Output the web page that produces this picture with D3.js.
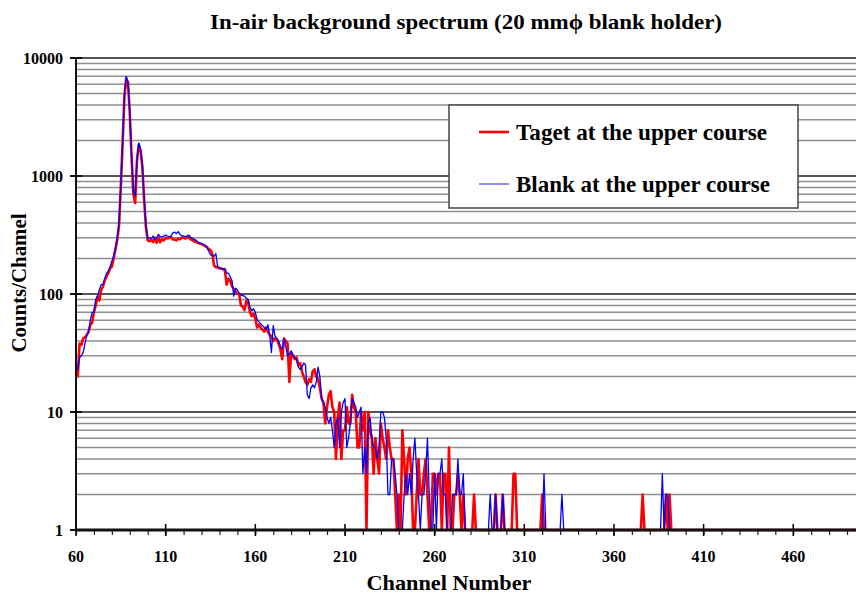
<!DOCTYPE html>
<html><head><meta charset="utf-8">
<script src="https://cdn.jsdelivr.net/npm/d3@7"></script>
<style>
body{margin:0;background:#fff}
svg{display:block}
text{font-family:"Liberation Serif","Times New Roman",serif;font-weight:bold;fill:#000}
</style>
</head><body>
<svg id="chart" width="856" height="594"></svg>
<script>
// ---- data ----
const firstChannel = 60;
const lastChannel = 495;
const targetCounts = [
  26,20,38,37,42,43,45,48,55,57,
  70,80,95,88,108,115,130,140,150,165,
  170,200,240,290,380,820,1900,4700,6700,6200,
  3400,1450,700,590,1350,1850,1650,1200,630,370,
  285,280,290,275,300,272,300,275,290,285,
  300,295,300,305,290,290,285,295,290,300,
  300,295,305,300,290,285,280,275,270,268,
  265,260,255,250,240,235,220,175,168,170,
  165,164,162,160,120,135,130,116,110,105,
  100,100,80,78,73,88,85,70,65,68,
  62,52,55,52,50,48,52,48,45,44,
  40,42,41,38,34,28,42,40,38,18,
  32,30,28,29,25,26,22,20,18,17,
  19,18,22,23,20,19,16,13,12,8,
  11,14,15,11,10,4,9,12,4,7,
  7,11,8,8,14,11,10,5,5,10,
  7,10,1,10,7,6,3,6,4,3,
  8,6,5,4,7,5,4,4,2,1,
  2,1,7,4,2,4,5,3,1,1,
  2,4,2,2,3,4,2,1,1,3,
  3,2,3,3,1,3,3,1,5,1,
  1,2,2,3,2,1,2,1,1,1,
  1,1,2,1,1,1,1,1,1,1,
  1,1,1,1,2,1,1,1,2,1,
  1,1,1,1,3,3,1,1,1,1,
  1,1,1,1,1,1,1,1,1,1,
  2,1,1,1,1,1,1,1,1,1,
  1,1,1,1,1,1,1,1,1,1,
  1,1,1,1,1,1,1,1,1,1,
  1,1,1,1,1,1,1,1,1,1,
  1,1,1,1,1,1,1,1,1,1,
  1,1,1,1,1,1,2,1,1,1,
  1,1,1,1,1,1,1,1,1,2,
  1,2,1,1,1,1,1,1,1,1,
  1,1,1,1,1,1,1,1,1,1,
  1,1,1,1,1,1,1,1,1,1,
  1,1,1,1,1,1,1,1,1,1,
  1,1,1,1,1,1,1,1,1,1,
  1,1,1,1,1,1,1,1,1,1,
  1,1,1,1,1,1,1,1,1,1,
  1,1,1,1,1,1,1,1,1,1,
  1,1,1,1,1,1,1,1,1,1,
  1,1,1,1,1,1,1,1,1,1,
  1,1,1,1,1,1
];
const blankCounts = [
  25,23,29,30,32,38,45,47,60,70,
  70,90,95,108,120,120,135,150,155,170,
  190,210,245,300,400,850,1950,4900,7000,6300,
  3500,1500,740,680,1400,1900,1700,1250,650,380,
  295,300,295,310,290,300,320,305,305,310,
  315,310,305,310,330,335,325,338,320,310,
  310,305,312,315,300,295,290,285,275,270,
  268,265,260,250,230,215,212,208,220,170,
  165,165,163,165,150,150,140,130,96,112,
  108,102,98,97,96,92,90,78,72,75,
  70,61,58,56,54,52,50,55,45,32,
  54,44,42,40,36,34,42,36,30,31,
  33,30,29,28,24,23,24,26,25,14,
  13,16,17,16,18,24,20,13,12,11,
  9,8,9,7,5,8,9,5,10,12,
  13,5,6,8,13,12,11,9,10,11,
  3,5,3,8,9,6,5,5,4,5,
  10,10,9,6,2,2,4,4,3,2,
  1,1,1,2,3,2,3,2,4,6,
  3,2,1,2,2,3,6,2,1,1,
  3,1,3,3,4,2,2,1,1,1,
  2,2,2,4,2,2,3,1,1,1,
  1,1,1,1,1,1,1,1,1,1,
  1,2,1,1,2,1,1,1,2,1,
  1,1,1,1,1,1,1,1,1,1,
  1,1,1,1,1,1,1,1,1,1,
  1,3,1,1,1,1,1,1,1,1,
  1,2,1,1,1,1,1,1,1,1,
  1,1,1,1,1,1,1,1,1,1,
  1,1,1,1,1,1,1,1,1,1,
  1,1,1,1,1,1,1,1,1,1,
  1,1,1,1,1,1,1,1,1,1,
  1,1,1,1,1,1,1,3,1,2,
  2,1,1,1,1,1,1,1,1,1,
  1,1,1,1,1,1,1,1,1,1,
  1,1,1,1,1,1,1,1,1,1,
  1,1,1,1,1,1,1,1,1,1,
  1,1,1,1,1,1,1,1,1,1,
  1,1,1,1,1,1,1,1,1,1,
  1,1,1,1,1,1,1,1,1,1,
  1,1,1,1,1,1,1,1,1,1,
  1,1,1,1,1,1,1,1,1,1,
  1,1,1,1,1,1,1,1,1,1,
  1,1,1,1,1,1
];
const xTickLabels = [60,110,160,210,260,310,360,410,460];
const yTickLabels = [1,10,100,1000,10000];
const seriesNames = ["Taget at the upper course","Blank at the upper course"];
const titleText = "In-air background spectrum (20 mm\u03D5 blank holder)";
const xTitle = "Channel Number";
const yTitle = "Counts/Chamel";

// ---- scales ----
const W = 856, H = 594;
const pLeft = 76, pRight = 856, pTop = 58, pBottom = 530;
const x = d3.scaleLinear().domain([firstChannel, lastChannel]).range([pLeft, pRight]);
const y = d3.scaleLog().domain([1, 10000]).range([pBottom, pTop]);
const svg = d3.select("#chart");

// gridlines
const minorVals = [];
for (let d = 1; d < 10000; d *= 10) for (let m = 2; m <= 9; m++) minorVals.push(d * m);
svg.append("g").selectAll("line").data(minorVals).join("line")
  .attr("x1", pLeft).attr("x2", W)
  .attr("y1", d => y(d)).attr("y2", d => y(d))
  .attr("stroke", "#8f8f8f").attr("stroke-width", 1.5);
svg.append("g").selectAll("line").data(yTickLabels).join("line")
  .attr("x1", pLeft).attr("x2", W)
  .attr("y1", d => y(d)).attr("y2", d => y(d))
  .attr("stroke", "#555").attr("stroke-width", 2);

// series
const line = d3.line().x((d, i) => x(firstChannel + i)).y(d => y(d));
svg.append("path").datum(targetCounts).attr("d", line)
  .attr("fill", "none").attr("stroke", "#ff0000").attr("stroke-width", 2.6)
  .attr("stroke-linejoin", "round");
svg.append("path").datum(blankCounts).attr("d", line)
  .attr("fill", "none").attr("stroke", "#0000ff").attr("stroke-width", 1.3)
  .attr("stroke-linejoin", "round");

// axes
const xAxis = d3.axisBottom(x).tickValues(d3.range(60, 500, 10)).tickSize(5).tickFormat("");
const gx = svg.append("g").attr("transform", `translate(0,${pBottom})`).call(xAxis);
gx.select(".domain").remove();
gx.selectAll(".tick line").attr("stroke", "#222").attr("stroke-width", 1.2);
svg.append("g").selectAll("line").data(xTickLabels).join("line")
  .attr("x1", d => x(d)).attr("x2", d => x(d)).attr("y1", pBottom - 6).attr("y2", pBottom + 6)
  .attr("stroke", "#000").attr("stroke-width", 1.5);
svg.append("line").attr("x1", pLeft).attr("x2", W).attr("y1", pBottom).attr("y2", pBottom)
  .attr("stroke", "#111").attr("stroke-width", 3);
svg.append("line").attr("x1", pLeft).attr("x2", pLeft).attr("y1", pTop).attr("y2", pBottom)
  .attr("stroke", "#111").attr("stroke-width", 2);
svg.append("g").selectAll("line").data(yTickLabels).join("line")
  .attr("x1", pLeft - 6).attr("x2", pLeft + 6).attr("y1", d => y(d)).attr("y2", d => y(d))
  .attr("stroke", "#111").attr("stroke-width", 2);

// tick labels
svg.append("g").selectAll("text").data(xTickLabels).join("text")
  .attr("x", d => x(d)).attr("y", 562).attr("text-anchor", "middle")
  .style("font-size", "16px").text(d => d);
svg.append("g").selectAll("text").data(yTickLabels).join("text")
  .attr("x", 63).attr("y", d => y(d) + 6).attr("text-anchor", "end")
  .style("font-size", "16px").text(d => d);

// titles
svg.append("text").attr("x", 466).attr("y", 29).attr("text-anchor", "middle")
  .attr("textLength", 512).attr("lengthAdjust", "spacingAndGlyphs")
  .style("font-size", "21px").text(titleText);
svg.append("text").attr("x", 449).attr("y", 590).attr("text-anchor", "middle")
  .attr("textLength", 165).attr("lengthAdjust", "spacingAndGlyphs")
  .style("font-size", "21px").text(xTitle);
svg.append("text").attr("transform", "translate(26,283) rotate(-90)").attr("text-anchor", "middle")
  .attr("textLength", 139).attr("lengthAdjust", "spacingAndGlyphs")
  .style("font-size", "21px").text(yTitle);

// legend
const lg = svg.append("g");
lg.append("rect").attr("x", 449).attr("y", 105).attr("width", 349).attr("height", 103)
  .attr("fill", "#fff").attr("stroke", "#444").attr("stroke-width", 1.5);
const legendColors = ["#ff0000", "#0000ff"];
const legendWidths = [2.6, 1.5];
const legendY = [132, 184];
const legendLen = [251, 254];
seriesNames.forEach((name, i) => {
  lg.append("line").attr("x1", 479).attr("x2", 509).attr("y1", legendY[i]).attr("y2", legendY[i])
    .attr("stroke", legendColors[i]).attr("stroke-width", legendWidths[i]).attr("opacity", i ? 0.6 : 1);
  lg.append("text").attr("x", 516).attr("y", legendY[i] + 8)
    .attr("textLength", legendLen[i]).attr("lengthAdjust", "spacingAndGlyphs")
    .style("font-size", "23px").text(name);
});
</script>
</body></html>
